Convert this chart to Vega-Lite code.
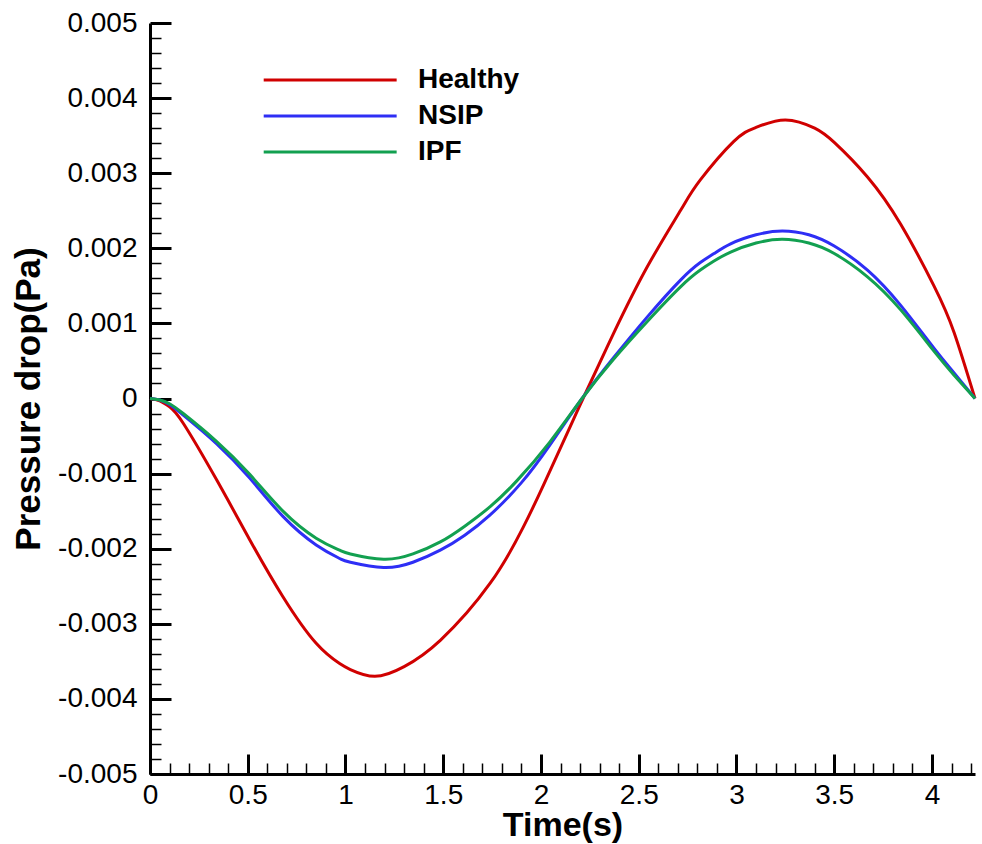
{
  "$schema": "https://vega.github.io/schema/vega-lite/v6.json",
  "width": 825,
  "height": 751,
  "autosize": "none",
  "padding": {"left": 150, "top": 23, "right": 7, "bottom": 70},
  "background": "white",
  "config": {
    "view": {"stroke": null},
    "font": "Liberation Sans"
  },
  "data": {
    "values": [
      {"s": "Healthy", "t": 0, "p": 0},
      {"s": "Healthy", "t": 0.05, "p": -0.00003},
      {"s": "Healthy", "t": 0.1, "p": -0.00011},
      {"s": "Healthy", "t": 0.17, "p": -0.00033},
      {"s": "Healthy", "t": 0.34, "p": -0.00108},
      {"s": "Healthy", "t": 0.51, "p": -0.00188},
      {"s": "Healthy", "t": 0.68, "p": -0.00264},
      {"s": "Healthy", "t": 0.85, "p": -0.00326},
      {"s": "Healthy", "t": 0.97, "p": -0.00353},
      {"s": "Healthy", "t": 1.025, "p": -0.00361},
      {"s": "Healthy", "t": 1.15, "p": -0.0037},
      {"s": "Healthy", "t": 1.3, "p": -0.00357},
      {"s": "Healthy", "t": 1.485, "p": -0.00322},
      {"s": "Healthy", "t": 1.74, "p": -0.00246},
      {"s": "Healthy", "t": 1.91, "p": -0.00171},
      {"s": "Healthy", "t": 2.015, "p": -0.00114},
      {"s": "Healthy", "t": 2.15, "p": -0.00037},
      {"s": "Healthy", "t": 2.215, "p": 0},
      {"s": "Healthy", "t": 2.37, "p": 0.00086},
      {"s": "Healthy", "t": 2.545, "p": 0.00176},
      {"s": "Healthy", "t": 2.715, "p": 0.00251},
      {"s": "Healthy", "t": 2.815, "p": 0.00291},
      {"s": "Healthy", "t": 2.985, "p": 0.00342},
      {"s": "Healthy", "t": 3.1, "p": 0.00361},
      {"s": "Healthy", "t": 3.25, "p": 0.00371},
      {"s": "Healthy", "t": 3.4, "p": 0.0036},
      {"s": "Healthy", "t": 3.5, "p": 0.00341},
      {"s": "Healthy", "t": 3.67, "p": 0.00295},
      {"s": "Healthy", "t": 3.84, "p": 0.00232},
      {"s": "Healthy", "t": 4.01, "p": 0.0015},
      {"s": "Healthy", "t": 4.113, "p": 0.00088},
      {"s": "Healthy", "t": 4.22, "p": 0},
      {"s": "NSIP", "t": 0, "p": 0},
      {"s": "NSIP", "t": 0.05, "p": -0.00002},
      {"s": "NSIP", "t": 0.1, "p": -0.00008},
      {"s": "NSIP", "t": 0.17, "p": -0.00022},
      {"s": "NSIP", "t": 0.34, "p": -0.0006},
      {"s": "NSIP", "t": 0.51, "p": -0.00106},
      {"s": "NSIP", "t": 0.68, "p": -0.00157},
      {"s": "NSIP", "t": 0.85, "p": -0.00195},
      {"s": "NSIP", "t": 0.97, "p": -0.00213},
      {"s": "NSIP", "t": 1.025, "p": -0.00218},
      {"s": "NSIP", "t": 1.195, "p": -0.00225},
      {"s": "NSIP", "t": 1.345, "p": -0.00218},
      {"s": "NSIP", "t": 1.485, "p": -0.00202},
      {"s": "NSIP", "t": 1.61, "p": -0.00182},
      {"s": "NSIP", "t": 1.74, "p": -0.00155},
      {"s": "NSIP", "t": 1.9, "p": -0.00112},
      {"s": "NSIP", "t": 2.045, "p": -0.00062},
      {"s": "NSIP", "t": 2.21, "p": 0},
      {"s": "NSIP", "t": 2.37, "p": 0.00054},
      {"s": "NSIP", "t": 2.545, "p": 0.00109},
      {"s": "NSIP", "t": 2.715, "p": 0.00158},
      {"s": "NSIP", "t": 2.815, "p": 0.00181},
      {"s": "NSIP", "t": 2.885, "p": 0.00193},
      {"s": "NSIP", "t": 2.97, "p": 0.00206},
      {"s": "NSIP", "t": 3.1, "p": 0.00218},
      {"s": "NSIP", "t": 3.235, "p": 0.00223},
      {"s": "NSIP", "t": 3.37, "p": 0.00218},
      {"s": "NSIP", "t": 3.5, "p": 0.00203},
      {"s": "NSIP", "t": 3.67, "p": 0.00171},
      {"s": "NSIP", "t": 3.84, "p": 0.00124},
      {"s": "NSIP", "t": 4.01, "p": 0.00067},
      {"s": "NSIP", "t": 4.113, "p": 0.00034},
      {"s": "NSIP", "t": 4.22, "p": 0},
      {"s": "IPF", "t": 0, "p": 0},
      {"s": "IPF", "t": 0.05, "p": -0.00002},
      {"s": "IPF", "t": 0.1, "p": -0.00007},
      {"s": "IPF", "t": 0.17, "p": -0.0002},
      {"s": "IPF", "t": 0.34, "p": -0.00057},
      {"s": "IPF", "t": 0.51, "p": -0.00101},
      {"s": "IPF", "t": 0.68, "p": -0.0015},
      {"s": "IPF", "t": 0.85, "p": -0.00186},
      {"s": "IPF", "t": 0.97, "p": -0.00202},
      {"s": "IPF", "t": 1.025, "p": -0.00207},
      {"s": "IPF", "t": 1.195, "p": -0.00214},
      {"s": "IPF", "t": 1.345, "p": -0.00207},
      {"s": "IPF", "t": 1.485, "p": -0.00191},
      {"s": "IPF", "t": 1.61, "p": -0.0017},
      {"s": "IPF", "t": 1.74, "p": -0.00144},
      {"s": "IPF", "t": 1.875, "p": -0.0011},
      {"s": "IPF", "t": 2.045, "p": -0.00058},
      {"s": "IPF", "t": 2.21, "p": 0},
      {"s": "IPF", "t": 2.37, "p": 0.00052},
      {"s": "IPF", "t": 2.545, "p": 0.00103},
      {"s": "IPF", "t": 2.715, "p": 0.00149},
      {"s": "IPF", "t": 2.815, "p": 0.00171},
      {"s": "IPF", "t": 2.885, "p": 0.00183},
      {"s": "IPF", "t": 2.97, "p": 0.00195},
      {"s": "IPF", "t": 3.1, "p": 0.00207},
      {"s": "IPF", "t": 3.235, "p": 0.00212},
      {"s": "IPF", "t": 3.37, "p": 0.00207},
      {"s": "IPF", "t": 3.5, "p": 0.00193},
      {"s": "IPF", "t": 3.67, "p": 0.00162},
      {"s": "IPF", "t": 3.84, "p": 0.00118},
      {"s": "IPF", "t": 4.01, "p": 0.00063},
      {"s": "IPF", "t": 4.113, "p": 0.00031},
      {"s": "IPF", "t": 4.22, "p": 0}
    ]
  },
  "resolve": {"axis": {"x": "independent", "y": "independent"}},
  "layer": [
    {
      "mark": {"type": "point", "opacity": 0},
      "encoding": {
        "x": {
          "field": "t", "type": "quantitative",
          "scale": {"domain": [0, 4.22], "nice": false, "zero": false},
          "axis": {
            "orient": "top", "offset": -751, "domain": false, "labels": false, "grid": false, "title": null,
            "ticks": true, "tickSize": 11, "tickWidth": 1.5, "tickColor": "black",
            "values": [0.1,0.2,0.3,0.4,0.6,0.7,0.8,0.9,1.1,1.2,1.3,1.4,1.6,1.7,1.8,1.9,2.1,2.2,2.3,2.4,2.6,2.7,2.8,2.9,3.1,3.2,3.3,3.4,3.6,3.7,3.8,3.9,4.1,4.2]
          }
        },
        "y": {
          "field": "p", "type": "quantitative",
          "scale": {"domain": [-0.005, 0.005], "nice": false, "zero": false},
          "axis": {
            "orient": "right", "offset": -825, "domain": false, "labels": false, "grid": false, "title": null,
            "ticks": true, "tickSize": 11, "tickWidth": 1.5, "tickColor": "black",
            "values": [-0.0048,-0.0046,-0.0044,-0.0042,-0.0038,-0.0036,-0.0034,-0.0032,-0.0028,-0.0026,-0.0024,-0.0022,-0.0018,-0.0016,-0.0014,-0.0012,-0.0008,-0.0006,-0.0004,-0.0002,0.0002,0.0004,0.0006,0.0008,0.0012,0.0014,0.0016,0.0018,0.0022,0.0024,0.0026,0.0028,0.0032,0.0034,0.0036,0.0038,0.0042,0.0044,0.0046,0.0048]
          }
        }
      }
    },
    {
      "mark": {"type": "line", "strokeWidth": 3, "interpolate": "natural"},
      "encoding": {
        "x": {
          "field": "t", "type": "quantitative",
          "scale": {"domain": [0, 4.22], "nice": false, "zero": false},
          "axis": {
            "orient": "bottom", "title": "Time(s)", "grid": false,
            "values": [0,0.5,1,1.5,2,2.5,3,3.5,4], "format": "~g",
            "domain": true, "domainColor": "black", "domainWidth": 3,
            "ticks": true, "tickSize": -20, "tickWidth": 3, "tickColor": "black",
            "labelFont": "Liberation Sans", "labelFontSize": 28, "labelColor": "black", "labelPadding": 27,
            "labelFlush": false, "labelOverlap": false,
            "titleFont": "Liberation Sans", "titleFontSize": 34, "titleFontWeight": "bold", "titleColor": "black", "titlePadding": -1
          }
        },
        "y": {
          "field": "p", "type": "quantitative",
          "scale": {"domain": [-0.005, 0.005], "nice": false, "zero": false},
          "axis": {
            "orient": "left", "title": "Pressure drop(Pa)", "grid": false,
            "values": [-0.005,-0.004,-0.003,-0.002,-0.001,0,0.001,0.002,0.003,0.004,0.005],
            "labelExpr": "replace(format(datum.value, '.3~f'), '\u2212', '-')",
            "domain": true, "domainColor": "black", "domainWidth": 3,
            "ticks": true, "tickSize": -21, "tickWidth": 3, "tickColor": "black",
            "labelFont": "Liberation Sans", "labelFontSize": 28, "labelColor": "black", "labelPadding": 34,
            "labelFlush": false, "labelOverlap": false,
            "titleFont": "Liberation Sans", "titleFontSize": 35, "titleFontWeight": "bold", "titleColor": "black", "titlePadding": 11
          }
        },
        "color": {
          "field": "s", "type": "nominal",
          "scale": {"domain": ["Healthy", "NSIP", "IPF"], "range": ["#D00000", "#2E2EF5", "#12A050"]},
          "legend": {
            "title": null, "orient": "none", "legendX": 112, "legendY": 42, "padding": 0,
            "symbolType": "M-1,0H9", "symbolSize": 707, "symbolStrokeWidth": 3,
            "labelFont": "Liberation Sans", "labelFontSize": 28, "labelFontWeight": "bold", "labelColor": "black",
            "labelOffset": 126, "rowPadding": 7
          }
        }
      }
    }
  ]
}
